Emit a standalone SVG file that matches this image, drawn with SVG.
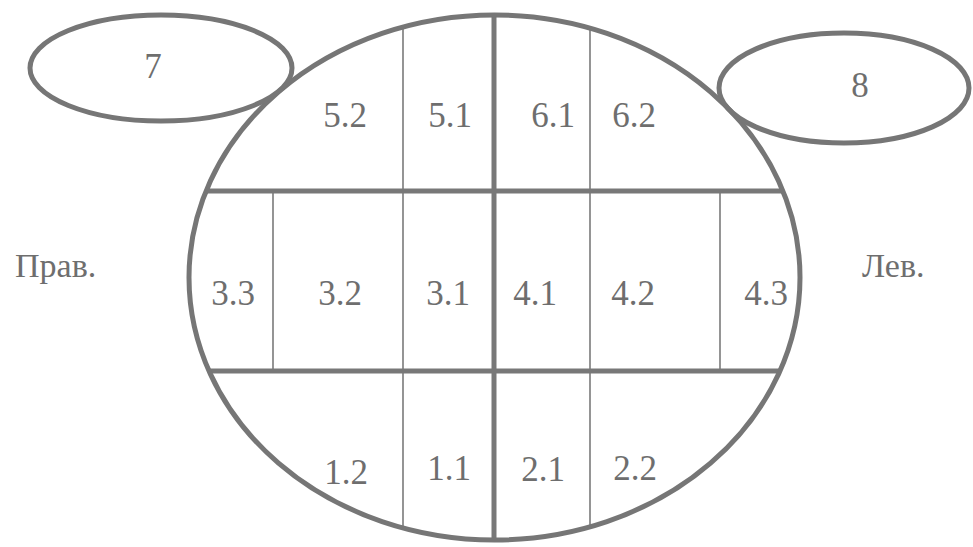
<svg xmlns="http://www.w3.org/2000/svg" width="973" height="547" viewBox="0 0 973 547">
  <style>
    .outline { fill: none; stroke: #767676; stroke-width: 5; }
    .thick { stroke: #787878; stroke-width: 5; fill: none; }
    .thin { stroke: #7a7a7a; stroke-width: 1.6; fill: none; }
    .lbl { font-family: "Liberation Serif", "DejaVu Serif", serif; font-size: 35px; fill: #6e6e6e; text-anchor: middle; }
    .side { font-family: "Liberation Serif", "DejaVu Serif", serif; font-size: 34px; fill: #6e6e6e; }
  </style>
  <defs>
    <clipPath id="inside">
      <ellipse cx="494.5" cy="277.5" rx="305.5" ry="262.5"/>
    </clipPath>
  </defs>
  <rect width="973" height="547" fill="#ffffff"/>

  <g id="grid" clip-path="url(#inside)">
    <line class="thin" x1="403" y1="0" x2="403" y2="547"/>
    <line class="thin" x1="590" y1="0" x2="590" y2="547"/>
    <line class="thin" x1="273" y1="191" x2="273" y2="371"/>
    <line class="thin" x1="720" y1="191" x2="720" y2="371"/>
    <line class="thick" x1="0" y1="191" x2="973" y2="191"/>
    <line class="thick" x1="0" y1="371" x2="973" y2="371"/>
    <line class="thick" x1="494" y1="0" x2="494" y2="547"/>
  </g>

  <g id="body">
    <ellipse class="outline" cx="494.5" cy="277.5" rx="305.5" ry="262.5"/>
  </g>

  <g id="node-7">
    <ellipse class="outline" cx="161" cy="68" rx="131" ry="53"/>
    <text class="lbl" x="153" y="78">7</text>
  </g>
  <g id="node-8">
    <ellipse class="outline" cx="844" cy="88" rx="125" ry="55"/>
    <text class="lbl" x="860" y="97">8</text>
  </g>

  <g id="labels">
    <text class="lbl" x="345" y="127">5.2</text>
    <text class="lbl" x="450" y="127">5.1</text>
    <text class="lbl" x="553" y="127">6.1</text>
    <text class="lbl" x="634" y="127">6.2</text>
    <text class="lbl" x="233" y="305">3.3</text>
    <text class="lbl" x="340" y="305">3.2</text>
    <text class="lbl" x="448" y="305">3.1</text>
    <text class="lbl" x="535" y="305">4.1</text>
    <text class="lbl" x="633" y="305">4.2</text>
    <text class="lbl" x="766" y="305">4.3</text>
    <text class="lbl" x="346" y="484">1.2</text>
    <text class="lbl" x="449" y="480">1.1</text>
    <text class="lbl" x="543" y="481">2.1</text>
    <text class="lbl" x="635" y="480">2.2</text>
  </g>

  <g id="sides">
    <text class="side" x="15" y="277">Прав.</text>
    <text class="side" x="862" y="277">Лев.</text>
  </g>
</svg>
